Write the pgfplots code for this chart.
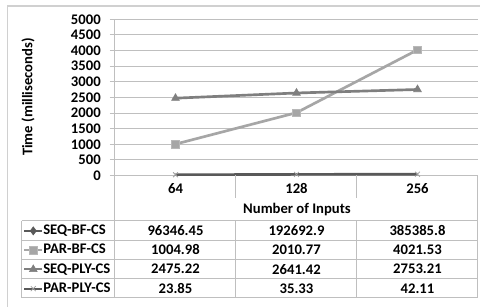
\documentclass[border=0pt]{standalone}
\usepackage{pgfplots}
\pgfplotsset{compat=1.18}
\usepackage{fontspec}
\setmainfont{Carlito}
\definecolor{gridc}{HTML}{BFBFBF}
\definecolor{framec}{HTML}{D0D0D0}
\definecolor{cA}{HTML}{595959}
\definecolor{cB}{HTML}{A6A6A6}
\definecolor{cC}{HTML}{7F7F7F}
\definecolor{cD}{HTML}{595959}
\definecolor{cDm}{HTML}{A0A0A0}
\newcommand{\cf}{\fontsize{11}{13}\selectfont\bfseries}
\begin{document}
\begin{tikzpicture}[font=\cf]
\useasboundingbox[fill=white] (0,0) rectangle (360pt,-230.25pt);
\begin{scope}[x=0.75pt,y=-0.75pt]
\draw[framec, line width=0.75pt] (7.5,6) rectangle (500,330);
\end{scope}
\begin{axis}[
  at={(86.25pt,-131.625pt)}, anchor=south west,
  scale only axis, width=272.25pt, height=117.15pt,
  xmin=-0.5, xmax=2.5, ymin=0, ymax=5000,
  xtick={0,1,2}, xticklabels={64,128,256},
  ytick={0,500,...,5000},
  scaled y ticks=false,
  /pgf/number format/assume math mode=true,
  /pgf/number format/1000 sep={},
  axis x line=bottom, axis y line=left,
  axis line style={draw=gridc, line width=0.75pt, -},
  ymajorgrids, grid style={draw=gridc, line width=0.75pt},
  tick align=outside,
  ytick style={draw=gridc, line width=0.75pt},
  xtick style={draw=none},
  major tick length=3.75pt,
  ticklabel style={font=\cf},
  yticklabel style={inner sep=0pt, xshift=-6.75pt},
  xticklabel style={inner sep=0pt, yshift=-2.25pt},
  ylabel={Time (milliseconds)},
  ylabel style={at={(axis description cs:-0.2397,0.5026)}, anchor=center, font=\cf},
  xlabel={Number of Inputs},
  xlabel style={at={(axis description cs:0.5014,-0.2209)}, anchor=center, font=\cf},
  legend style={at={(axis description cs:-0.2534,-0.2913)}, anchor=north west,
    draw=none, fill=none, inner sep=0pt, row sep=0pt,
    nodes={inner sep=0pt, minimum height=14.4375pt, font=\cf},
    /tikz/every even column/.append style={column sep=0.75pt}},
  legend cell align=left,
  legend image code/.code={\draw[mark repeat=2,mark phase=2,#1, line width=1.5pt] plot coordinates {(0pt,0pt) (6.75pt,0pt) (13.5pt,0pt)};},
]
\addplot[cA, line width=2pt, mark=diamond*, mark size=3pt, mark options={fill=cA, line width=0.5pt}]
  coordinates {(0,96346.45) (1,192692.9) (2,385385.8)};
\addlegendentry{SEQ-BF-CS}
\addplot[cB, line width=2pt, mark=square*, mark size=2.8pt, mark options={fill=cB, draw=cB!80!white, line width=0.5pt}]
  coordinates {(0,1004.98) (1,2010.77) (2,4021.53)};
\addlegendentry{PAR-BF-CS}
\addplot[cC, line width=2pt, mark=triangle*, mark size=3.3pt, mark options={fill=cC, line width=0.5pt}]
  coordinates {(0,2475.22) (1,2641.42) (2,2753.21)};
\addlegendentry{SEQ-PLY-CS}
\addplot[cD, line width=2pt, mark=x, mark size=2.6pt, mark options={draw=cDm, line width=0.6pt}]
  coordinates {(0,23.85) (1,35.33) (2,42.11)};
\addlegendentry{PAR-PLY-CS}
\end{axis}
\begin{scope}[x=0.75pt,y=-0.75pt]
\draw[gridc, line width=0.75pt] (115,175.5) -- (115,298);
\draw[gridc, line width=0.75pt] (478,175.5) -- (478,298);
\draw[gridc, line width=0.75pt] (236,175.5) -- (236,198);
\draw[gridc, line width=0.75pt] (357,175.5) -- (357,198);
\foreach \yy in {221,240.25,259.5,278.75,298} {\draw[gridc, line width=0.75pt] (22,\yy) -- (478,\yy);}
\foreach \xx in {22,236,357} {\draw[gridc, line width=0.75pt] (\xx,221) -- (\xx,298);}
\node at (175.5,230.6) {96346.45};
\node at (296.5,230.6) {192692.9};
\node at (417.5,230.6) {385385.8};
\node at (175.5,249.9) {1004.98};
\node at (296.5,249.9) {2010.77};
\node at (417.5,249.9) {4021.53};
\node at (175.5,269.1) {2475.22};
\node at (296.5,269.1) {2641.42};
\node at (417.5,269.1) {2753.21};
\node at (175.5,288.4) {23.85};
\node at (296.5,288.4) {35.33};
\node at (417.5,288.4) {42.11};
\end{scope}
\end{tikzpicture}
\end{document}
